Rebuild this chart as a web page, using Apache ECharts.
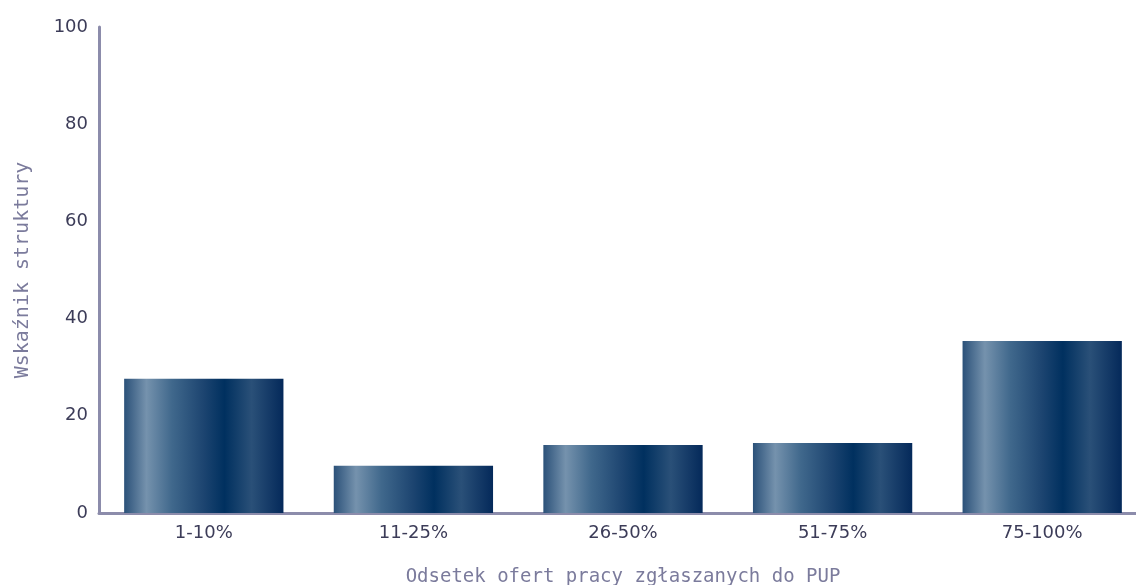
<!DOCTYPE html>
<html><head><meta charset="utf-8">
<script src="https://cdn.jsdelivr.net/npm/echarts@6/dist/echarts.min.js"></script>
<style>html,body{margin:0;padding:0;background:#fff}#c{width:1136px;height:585px}</style>
</head><body><div id="c"></div>
<script>
const categories = ['1-10%', '11-25%', '26-50%', '51-75%', '75-100%'];
const values = [27.6, 9.7, 14.0, 14.4, 35.4];
const yTicks = [0, 20, 40, 60, 80, 100];

const chart = echarts.init(document.getElementById('c'));
const grad = new echarts.graphic.LinearGradient(0, 0, 1, 0, [
  {offset: 0, color: '#2b5179'},
  {offset: 0.14, color: '#7592ad'},
  {offset: 0.3, color: '#40688c'},
  {offset: 0.5, color: '#1c4470'},
  {offset: 0.63, color: '#00305f'},
  {offset: 0.8, color: '#2a5078'},
  {offset: 1, color: '#04295a'}
]);
chart.setOption({
  animation: false,
  grid: {left: 99, right: -11, top: 27, bottom: 72, outerBoundsMode: 'none', containLabel: false},
  xAxis: {
    type: 'category', data: categories,
    name: 'Odsetek ofert pracy zgłaszanych do PUP',
    nameLocation: 'middle', nameGap: 55,
    nameTextStyle: {color: '#7b7b9c', fontSize: 19, fontFamily: 'DejaVu Sans Mono'},
    axisLine: {lineStyle: {color: '#8c8cab', width: 3}},
    axisTick: {show: false},
    axisLabel: {color: '#3c3c58', fontSize: 18, fontFamily: 'DejaVu Sans', margin: 11}
  },
  yAxis: {
    type: 'value', min: 0, max: 100, interval: 20,
    name: 'Wskaźnik struktury', nameLocation: 'middle', nameGap: 66,
    nameTextStyle: {color: '#7b7b9c', fontSize: 20, fontFamily: 'DejaVu Sans Mono'},
    axisLine: {show: true, lineStyle: {color: '#8c8cab', width: 3}},
    axisTick: {show: false},
    splitLine: {show: false},
    axisLabel: {color: '#3c3c58', fontSize: 18, fontFamily: 'DejaVu Sans', margin: 11,
      formatter: v => yTicks.includes(v) ? String(v) : ''}
  },
  series: [{
    type: 'bar', data: values, barWidth: '76%',
    itemStyle: {color: grad}
  }]
});
</script></body></html>
